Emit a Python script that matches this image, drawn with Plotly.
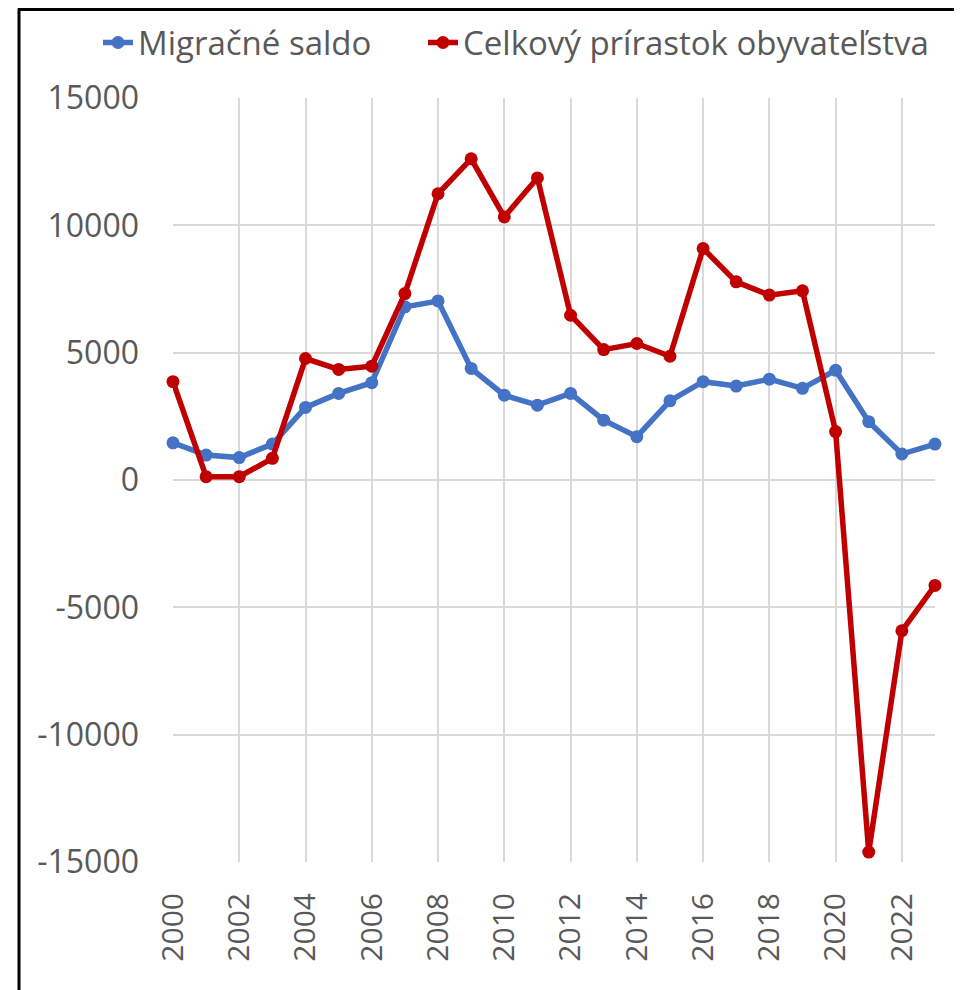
import plotly.graph_objects as go

years = list(range(2000, 2024))
migracne_saldo = [1460, 980, 880, 1410, 2850, 3400, 3820, 6800, 7030, 4380,
                  3330, 2940, 3400, 2350, 1700, 3110, 3860, 3690, 3960, 3600,
                  4310, 2290, 1020, 1410]
celkovy_prirastok = [3860, 130, 130, 850, 4770, 4340, 4470, 7320, 11240, 12610,
                     10330, 11860, 6470, 5120, 5360, 4860, 9090, 7780, 7260, 7430,
                     1900, -14610, -5920, -4140]
series_names = ["Migračné saldo", "Celkový prírastok obyvateľstva"]
series_colors = ["#4472C4", "#C00000"]
x_ticks = list(range(2000, 2023, 2))
y_ticks = [15000, 10000, 5000, 0, -5000, -10000, -15000]
y_tick_labels = ["15000", "10000", "5000", "0", "-5000", "-10000", "-15000"]

OFF = 8  # page body margin
W, H = 962 - OFF, 990 - OFF
L, R, T, B = 173 - OFF, 935 - OFF, 97.5 - OFF, 862 - OFF

TXT = "#595959"
GRID = "#D9D9D9"

pw, ph = R - L, B - T
def px(x):
    return (x - OFF - L) / pw
def py(y):
    return (B - (y - OFF)) / ph

fig = go.Figure()
legend_ids = ["legend", "legend2"]
for name, vals, col, lg in zip(series_names, [migracne_saldo, celkovy_prirastok],
                               series_colors, legend_ids):
    fig.add_trace(go.Scatter(
        x=years, y=vals, name=name, mode="lines+markers",
        line=dict(color=col, width=5.5),
        marker=dict(color=col, size=13),
        cliponaxis=False, legend=lg,
    ))

leg_common = dict(
    orientation="h", xref="paper", yref="paper", xanchor="left", yanchor="top",
    font=dict(size=33, color=TXT, family="Open Sans"),
    bgcolor="rgba(0,0,0,0)", borderwidth=0,
)

fig.update_layout(
    width=W, height=H,
    margin=dict(l=L, r=W - R, t=T, b=H - B, pad=0, autoexpand=False),
    paper_bgcolor="white", plot_bgcolor="white",
    font=dict(family="Open Sans", color=TXT),
    showlegend=True,
    legend=dict(x=px(98), y=py(14), **leg_common),
    legend2=dict(x=px(423), y=py(14), **leg_common),
    xaxis=dict(
        range=[2000, 2023], tickvals=x_ticks, ticktext=[str(v) for v in x_ticks],
        tickangle=-90, showgrid=True, gridcolor=GRID, gridwidth=1.5,
        zeroline=False, showline=False, ticks="",
        tickfont=dict(size=30, color=TXT), ticklabelstandoff=24,
    ),
    yaxis=dict(
        range=[-15000, 15000], tickvals=y_ticks, ticktext=y_tick_labels,
        showgrid=True, gridcolor=GRID, gridwidth=1.5,
        zeroline=False, showline=False, ticks="",
        tickfont=dict(size=32, color=TXT), ticklabelstandoff=33,
    ),
)

fig.add_shape(type="line", xref="paper", yref="paper",
              x0=px(18), x1=px(990), y0=py(9), y1=py(9),
              line=dict(color="black", width=3))
fig.add_shape(type="line", xref="paper", yref="paper",
              x0=px(19), x1=px(19), y0=py(8), y1=py(1010),
              line=dict(color="black", width=3))

fig.write_html("out.html")
